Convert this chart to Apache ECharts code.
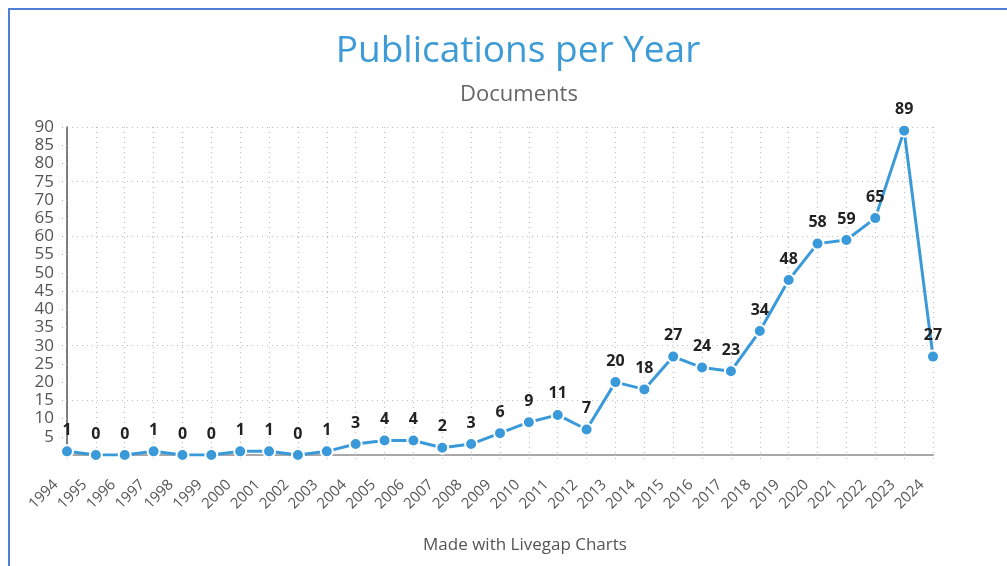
<!DOCTYPE html>
<html>
<head>
<meta charset="utf-8">
<script src="https://cdn.jsdelivr.net/npm/echarts@6/dist/echarts.min.js"></script>
<style>
  html, body { margin: 0; padding: 0; background: #fff; }
  #frame { position: absolute; left: 8px; top: 8px; width: 1010px; height: 570px;
           border-top: 2px solid #4f7fd6; border-left: 2px solid #4f7fd6; box-sizing: border-box; }
  #chart { position: absolute; left: 0; top: 0; width: 1007px; height: 566px; }
</style>
</head>
<body>
<div id="frame"></div>
<div id="chart"></div>
<script>
// Publications per year, 1994–2024
const years = ['1994','1995','1996','1997','1998','1999','2000','2001','2002','2003',
               '2004','2005','2006','2007','2008','2009','2010','2011','2012','2013',
               '2014','2015','2016','2017','2018','2019','2020','2021','2022','2023','2024'];
const documents = [1,0,0,1,0,0,1,1,0,1,3,4,4,2,3,6,9,11,7,20,18,27,24,23,34,48,58,59,65,89,27];

const chart = echarts.init(document.getElementById('chart'));
const font = '"Open Sans", "Noto Sans", sans-serif';
const dotted = { show: true, lineStyle: { color: '#bdbdbd', type: [1, 4], width: 1.2 } };

chart.setOption({
  animation: false,
  textStyle: { fontFamily: font },
  title: [
    { text: 'Publications per Year', left: 513, top: 28, textAlign: 'center',
      textStyle: { color: '#3d9bd6', fontSize: 37, fontWeight: 'normal', fontFamily: font } },
    { text: 'Documents', left: 514, top: 79, textAlign: 'center',
      textStyle: { color: '#666', fontSize: 22, fontWeight: 'normal', fontFamily: font } },
    { text: 'Made with Livegap Charts', left: 520, top: 532, textAlign: 'center',
      textStyle: { color: '#555', fontSize: 17, fontWeight: 'normal', fontFamily: font } }
  ],
  grid: { left: 67, right: 74, top: 127, bottom: 111 },
  xAxis: {
    type: 'category',
    data: years,
    boundaryGap: false,
    axisLine: { lineStyle: { color: '#a8a8a8', width: 2 } },
    axisTick: { show: true, length: 4, lineStyle: { color: '#bbb', type: [1, 2] } },
    axisLabel: { rotate: 45, color: '#555', fontSize: 15, margin: 16, interval: 0,
                 padding: [0, 16, 0, 0], fontFamily: font },
    splitLine: dotted
  },
  yAxis: [
    {
      type: 'value', min: 0, max: 90, interval: 5,
      axisLine: { show: true, lineStyle: { color: '#555', width: 1.5 } },
      axisTick: { show: true, length: 6, lineStyle: { color: '#aaa', type: [1, 3] } },
      axisLabel: { color: '#555', fontSize: 17, margin: 13, fontFamily: font,
                   formatter: v => v === 0 ? '' : v },
      splitLine: { show: false }
    },
    {
      type: 'value', min: 0, max: 90, interval: 15, position: 'left',
      axisLine: { show: false }, axisTick: { show: false }, axisLabel: { show: false },
      splitLine: dotted
    }
  ],
  series: [{
    type: 'line',
    data: documents,
    color: '#3a9ad9',
    lineStyle: { width: 3, color: '#3a9ad9' },
    symbol: 'circle',
    symbolSize: 12,
    itemStyle: { color: '#3a9ad9', borderColor: '#fff', borderWidth: 2 },
    label: { show: true, position: 'top', distance: 6, color: '#222', fontSize: 16,
             fontWeight: 'bold', fontFamily: font }
  }]
});
</script>
</body>
</html>
